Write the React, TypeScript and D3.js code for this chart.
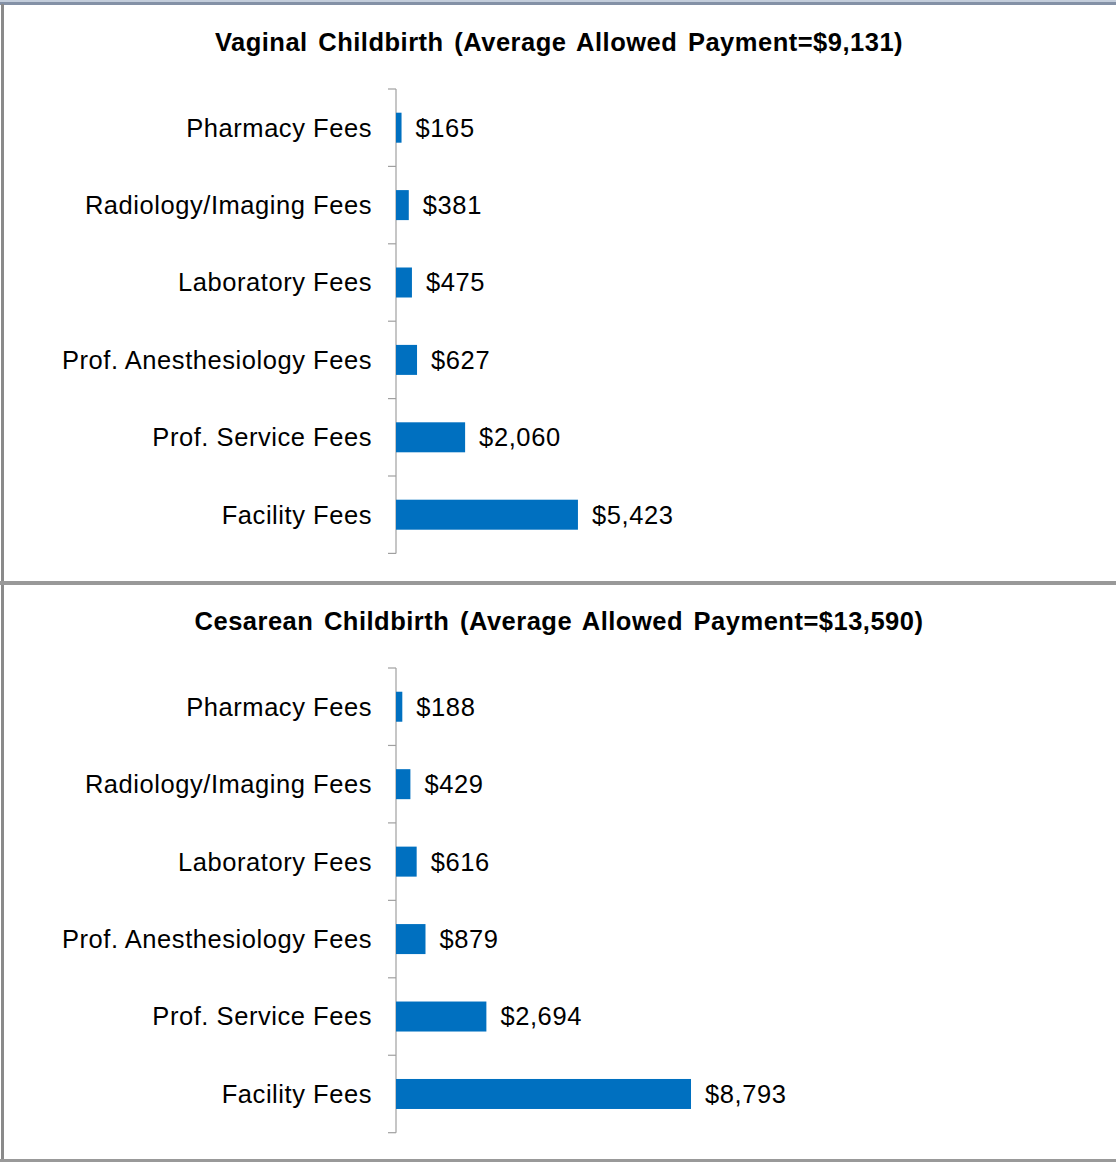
import React from "react";
import * as d3 from "d3";

const categories = [
  "Pharmacy Fees",
  "Radiology/Imaging Fees",
  "Laboratory Fees",
  "Prof. Anesthesiology Fees",
  "Prof. Service Fees",
  "Facility Fees",
];
const vaginalValues = [165, 381, 475, 627, 2060, 5423];
const cesareanValues = [188, 429, 616, 879, 2694, 8793];
const vaginalTitle = "Vaginal Childbirth (Average Allowed Payment=$9,131)";
const cesareanTitle = "Cesarean Childbirth (Average Allowed Payment=$13,590)";

const W = 1116;
const H = 1162;
const AXIS_X = 396;
const BAR_H = 30;
const FONT = "Arial, 'Liberation Sans', Helvetica, sans-serif";

const x = d3.scaleLinear().domain([0, 10000]).range([AXIS_X, AXIS_X + 335.5]);
const fmt = (v: number) => "$" + d3.format(",")(v);

function Panel({ title, values, titleY, top, bottom }: { title: string; values: number[]; titleY: number; top: number; bottom: number }) {
  const y = d3.scaleBand<string>().domain(categories).range([top, bottom]).padding(0);
  const ticks = [...categories.map((c) => y(c) as number), bottom];
  return (
    <g>
      <text x={559} y={titleY} textAnchor="middle" fontFamily={FONT} fontWeight="bold" fontSize={25.5} fill="#000" wordSpacing={3} letterSpacing={0.5}>
        {title}
      </text>
      <line x1={AXIS_X} x2={AXIS_X} y1={top} y2={bottom} stroke="#a0a0a0" strokeWidth={1.2} />
      {ticks.map((t, i) => (
        <line key={i} x1={AXIS_X - 8} x2={AXIS_X} y1={t} y2={t} stroke="#a0a0a0" strokeWidth={1.2} />
      ))}
      {categories.map((c, i) => {
        const cy = (y(c) as number) + y.bandwidth() / 2;
        return (
          <g key={c}>
            <rect x={x(0)} y={cy - BAR_H / 2} width={x(values[i]) - x(0)} height={BAR_H} fill="#0070C0" />
            <text x={372} y={cy} dy="0.35em" textAnchor="end" fontFamily={FONT} fontSize={25.5} fill="#000" letterSpacing={0.55}>
              {c}
            </text>
            <text x={x(values[i]) + 14} y={cy} dy="0.35em" textAnchor="start" fontFamily={FONT} fontSize={25.5} fill="#000" letterSpacing={0.6}>
              {fmt(values[i])}
            </text>
          </g>
        );
      })}
    </g>
  );
}

export default function App() {
  return (
    <svg width={W} height={H} style={{ position: "absolute", left: 0, top: 0, background: "#fff" }}>
      <rect x={0} y={0} width={W} height={H} fill="#fff" />
      <rect x={0} y={0} width={W} height={2} fill="#c3cddb" />
      <rect x={0} y={2} width={W} height={3} fill="#8491a6" />
      <rect x={1} y={4} width={3} height={H - 4} fill="#8a8a8a" />
      <rect x={0} y={581} width={W} height={4} fill="#999" />
      <rect x={0} y={1159} width={W} height={3} fill="#999" />
      <Panel title={vaginalTitle} values={vaginalValues} titleY={51} top={89} bottom={553.4} />
      <Panel title={cesareanTitle} values={cesareanValues} titleY={630} top={668} bottom={1132.7} />
    </svg>
  );
}
